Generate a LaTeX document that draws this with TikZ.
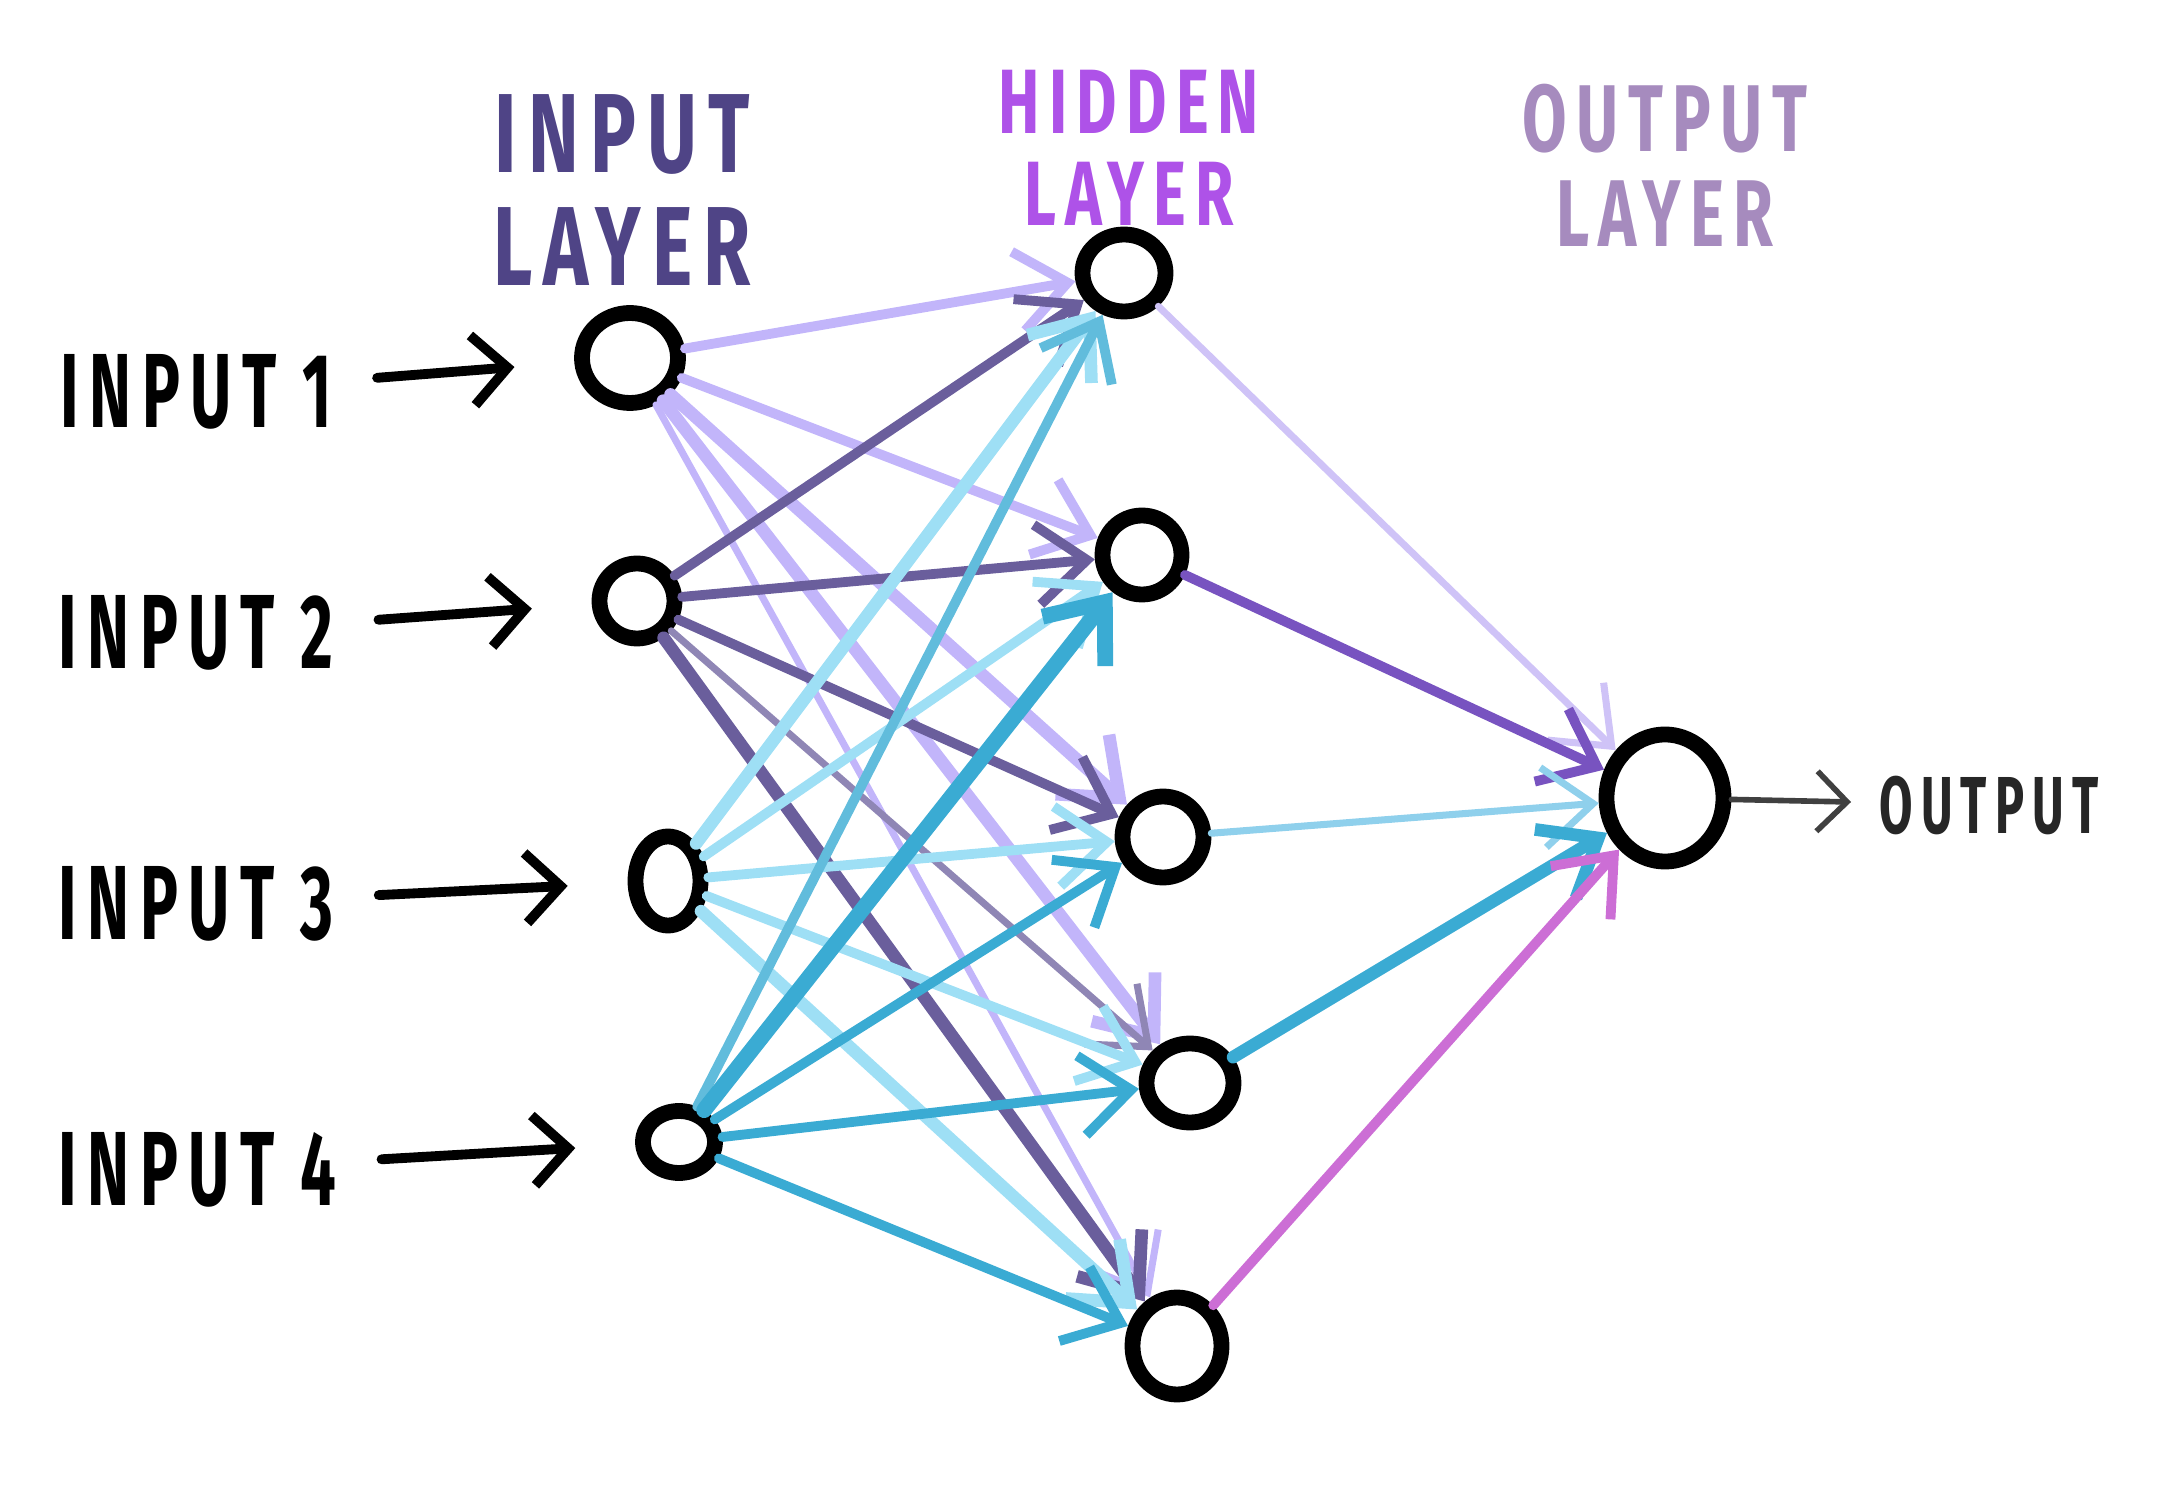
\documentclass[tikz,border=0pt]{standalone}
\usepackage{fontspec}
\usepackage{tikz}
\usetikzlibrary{arrows.meta,shapes.geometric}
\newfontfamily\handfont[FakeStretch=0.6,LetterSpace=10]{Fira Sans}
\newfontfamily\headfont[FakeStretch=0.68,LetterSpace=10]{Fira Sans}
\definecolor{lavender}{HTML}{C2B5FA}
\definecolor{slate}{HTML}{6A5E9C}
\definecolor{sky}{HTML}{9EDFF5}
\definecolor{ocean}{HTML}{3AABD3}
\definecolor{hidpurple}{HTML}{7853C0}
\definecolor{lightlav}{HTML}{CFC3F7}
\definecolor{paleblue}{HTML}{8FD0EC}
\definecolor{pinkline}{HTML}{CC6ED5}
\definecolor{inputhead}{HTML}{4F4486}
\definecolor{hiddenhead}{HTML}{AE52E8}
\definecolor{outputhead}{HTML}{A68BBE}

\begin{document}
\begin{tikzpicture}[
  neuron/.style={ellipse, draw=black, line width=4.5pt, fill=white, inner sep=0pt},
  link/.style={-{Straight Barb[length=5mm,width=8mm]}, line cap=round, line join=round},
  slim/.style={line width=2pt},
  mid/.style={line width=2.8pt},
  wide/.style={line width=3.6pt},
  broad/.style={line width=4.5pt},
  inlabel/.style={font=\handfont\bfseries\fontsize{30}{30}\selectfont, inner sep=0pt, anchor=west},
  feed/.style={-{Straight Barb[length=3.5mm,width=7mm]}, line width=2.8pt, line cap=round, shorten <=0.45cm, shorten >=0.6cm},
  head/.style={align=center, inner sep=0pt}
]
\useasboundingbox (0,0) rectangle (21.58,15.03);

\node[head, text=inputhead, font=\headfont\bfseries\fontsize{32}{32}\selectfont] (inhead) at (6.22,13.13) {INPUT\\LAYER};
\node[head, text=hiddenhead, font=\headfont\bfseries\fontsize{26}{26}\selectfont] (hidhead) at (11.29,13.55) {HIDDEN\\LAYER};
\node[head, text=outputhead, font=\headfont\bfseries\fontsize{27}{27}\selectfont] (outhead) at (16.65,13.38) {OUTPUT\\LAYER};

\node[neuron, minimum width=0.96cm, minimum height=0.90cm] (in1) at (6.30,11.45) {};
\node[neuron, minimum width=0.75cm, minimum height=0.75cm] (in2) at (6.37,9.02) {};
\node[neuron, minimum width=0.65cm, minimum height=0.89cm] (in3) at (6.68,6.22) {};
\node[neuron, minimum width=0.72cm, minimum height=0.62cm] (in4) at (6.79,3.61) {};

\node[neuron, minimum width=0.83cm, minimum height=0.77cm] (h1) at (11.24,12.30) {};
\node[neuron, minimum width=0.79cm, minimum height=0.79cm] (h2) at (11.42,9.48) {};
\node[neuron, minimum width=0.81cm, minimum height=0.81cm] (h3) at (11.63,6.66) {};
\node[neuron, minimum width=0.87cm, minimum height=0.79cm] (h4) at (11.90,4.20) {};
\node[neuron, minimum width=0.89cm, minimum height=0.97cm] (h5) at (11.77,1.57) {};

\node[neuron, minimum width=1.17cm, minimum height=1.27cm] (out) at (16.65,7.05) {};

\node[inlabel] (lab1) at (0.60,11.11) {INPUT 1};
\node[inlabel] (lab2) at (0.58,8.70) {INPUT 2};
\node[inlabel] (lab3) at (0.58,5.99) {INPUT 3};
\node[inlabel] (lab4) at (0.58,3.33) {INPUT 4};
\node[inlabel, font=\handfont\bfseries\fontsize{23}{23}\selectfont, text=black!85] (outlab) at (18.79,6.98) {OUTPUT};

\draw[feed] (lab1) -- (in1);
\draw[feed] (lab2) -- (in2);
\draw[feed] (lab3) -- (in3);
\draw[feed] (lab4) -- (in4);

\draw[link, lavender, slim] (in1) -- (h5);
\draw[link, lavender, mid] (in1) -- (h1);
\draw[link, lavender, mid] (in1) -- (h2);
\draw[link, lavender, wide] (in1) -- (h3);
\draw[link, lavender, wide] (in1) -- (h4);

\draw[link, slate, mid] (in2) -- (h1);
\draw[link, slate, mid] (in2) -- (h2);
\draw[link, slate, mid] (in2) -- (h3);
\draw[link, slate!75, slim] (in2) -- (h4);
\draw[link, slate, wide] (in2) -- (h5);

\draw[link, sky, wide] (in3) -- (h1);
\draw[link, sky, mid] (in3) -- (h2);
\draw[link, sky, mid] (in3) -- (h3);
\draw[link, sky, mid] (in3) -- (h4);
\draw[link, sky, wide] (in3) -- (h5);

\draw[link, ocean!80, mid] (in4) -- (h1);
\draw[link, ocean, broad] (in4) -- (h2);
\draw[link, ocean, mid] (in4) -- (h3);
\draw[link, ocean, mid] (in4) -- (h4);
\draw[link, ocean, mid] (in4) -- (h5);

\draw[link, lightlav, slim] (h1) -- (out);
\draw[link, hidpurple, mid] (h2) -- (out);
\draw[link, paleblue, slim] (h3) -- (out);
\draw[link, ocean, wide] (h4) -- (out);
\draw[link, pinkline, mid] (h5) -- (out);

\draw[-{Straight Barb[length=3mm,width=6mm]}, line width=1.6pt, line cap=round, black!75, shorten >=0.28cm] (out) -- (outlab);
\end{tikzpicture}
\end{document}
